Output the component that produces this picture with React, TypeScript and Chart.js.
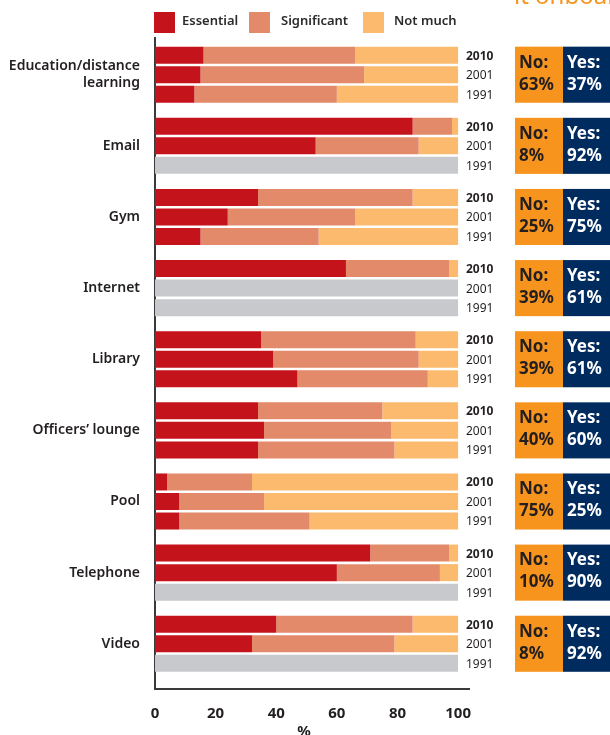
import React, { useEffect, useRef } from "react";
import { Chart, registerables } from "chart.js";
Chart.register(...registerables);

const categories: (string | string[])[] = [
  ["Education/distance", "learning"],
  "Email",
  "Gym",
  "Internet",
  "Library",
  "Officers’ lounge",
  "Pool",
  "Telephone",
  "Video",
];
const years = ["2010", "2001", "1991"];
const seriesNames = ["Essential", "Significant", "Not much"];
const seriesColors = ["#C5131C", "#E38A6B", "#FBBA6E"];
const noDataColor = "#C7C9CD";

const essential2010 = [16, 85, 34, 63, 35, 34, 4, 71, 40];
const significant2010 = [50, 13, 51, 34, 51, 41, 28, 26, 45];
const notMuch2010 = [34, 2, 15, 3, 14, 25, 68, 3, 15];

const essential2001 = [15, 53, 24, null, 39, 36, 8, 60, 32];
const significant2001 = [54, 34, 42, null, 48, 42, 28, 34, 47];
const notMuch2001 = [31, 13, 34, null, 13, 22, 64, 6, 21];
const noData2001 = [null, null, null, 100, null, null, null, null, null];

const essential1991 = [13, null, 15, null, 47, 34, 8, null, null];
const significant1991 = [47, null, 39, null, 43, 45, 43, null, null];
const notMuch1991 = [40, null, 46, null, 10, 21, 49, null, null];
const noData1991 = [null, 100, null, 100, null, null, null, 100, 100];

const noShare = [63, 8, 25, 39, 39, 40, 75, 10, 8];
const yesShare = [37, 92, 75, 61, 61, 60, 25, 90, 92];
const xTicks = [0, 20, 40, 60, 80, 100];

const CAT_PCT = 0.824;
const BAR_PCT = 0.87;
const FONT = "'Noto Sans', sans-serif";

function pts(arr: (number | null)[]) {
  const out: { x: number; y: number }[] = [];
  arr.forEach((v, i) => {
    if (v !== null) out.push({ x: v, y: i });
  });
  return out;
}

const overlayPlugin = {
  id: "overlay",
  afterDraw(chart: any) {
    const ctx = chart.ctx as CanvasRenderingContext2D;
    const y = chart.scales.y;
    const unit = Math.abs(y.getPixelForValue(1) - y.getPixelForValue(0));
    const pitch = (unit * CAT_PCT) / 3;
    const barH = pitch * BAR_PCT;
    ctx.save();

    // cut-off heading fragment at top right
    ctx.fillStyle = "#F7941D";
    ctx.font = `24px ${FONT}`;
    ctx.textBaseline = "alphabetic";
    ctx.textAlign = "left";
    ctx.fillText("it onboard", 514, 4);

    // legend
    const legendX = [154, 249, 363];
    const textOff = [28, 32, 31];
    seriesNames.forEach((name, i) => {
      const lx = legendX[i];
      ctx.fillStyle = seriesColors[i];
      ctx.fillRect(lx, 12, 21, 21);
      ctx.fillStyle = "#2b2b2b";
      ctx.font = `600 13px ${FONT}`;
      ctx.textBaseline = "middle";
      ctx.fillText(name, lx + textOff[i], 21.5);
    });

    categories.forEach((_, i) => {
      const c = y.getPixelForValue(i);
      const start = c - (unit * CAT_PCT) / 2;
      // year labels
      years.forEach((yr, k) => {
        const by = start + pitch * (k + 0.5);
        ctx.fillStyle = "#231F20";
        ctx.font = k === 0 ? `bold 12px ${FONT}` : `12px ${FONT}`;
        ctx.textAlign = "left";
        ctx.textBaseline = "middle";
        ctx.fillText(yr, 466, by + 1);
      });
      // boxes
      const top = start + (pitch - barH) / 2;
      const bottom = start + pitch * 3 - (pitch - barH) / 2;
      ctx.fillStyle = "#F7941D";
      ctx.fillRect(515, top, 48, bottom - top);
      ctx.fillStyle = "#002B5E";
      ctx.fillRect(563, top, 48, bottom - top);
      ctx.font = `bold 17px ${FONT}`;
      ctx.textBaseline = "middle";
      ctx.fillStyle = "#231F20";
      ctx.fillText("No:", 519, top + 16);
      ctx.fillText(noShare[i] + "%", 519, top + 38);
      ctx.fillStyle = "#FFFFFF";
      ctx.fillText("Yes:", 567, top + 16);
      ctx.fillText(yesShare[i] + "%", 567, top + 38);
    });

    // axis title
    ctx.fillStyle = "#231F20";
    ctx.font = `bold 15px ${FONT}`;
    ctx.textAlign = "center";
    ctx.textBaseline = "top";
    ctx.fillText("%", 304, 724);
    ctx.restore();
  },
};

export default function App() {
  const ref = useRef<HTMLCanvasElement>(null);
  useEffect(() => {
    if (!ref.current) return;
    const ds = (label: string, data: (number | null)[], color: string, stack: string) => ({
      label,
      data: pts(data),
      backgroundColor: color,
      borderWidth: 0,
      stack,
      categoryPercentage: CAT_PCT,
      barPercentage: BAR_PCT,
    });
    const chart = new Chart(ref.current, {
      type: "bar",
      data: {
        datasets: [
          ds("Essential 2010", essential2010, seriesColors[0], "2010"),
          ds("Significant 2010", significant2010, seriesColors[1], "2010"),
          ds("Not much 2010", notMuch2010, seriesColors[2], "2010"),
          ds("Essential 2001", essential2001, seriesColors[0], "2001"),
          ds("Significant 2001", significant2001, seriesColors[1], "2001"),
          ds("Not much 2001", notMuch2001, seriesColors[2], "2001"),
          ds("No data 2001", noData2001, noDataColor, "2001"),
          ds("Essential 1991", essential1991, seriesColors[0], "1991"),
          ds("Significant 1991", significant1991, seriesColors[1], "1991"),
          ds("Not much 1991", notMuch1991, seriesColors[2], "1991"),
          ds("No data 1991", noData1991, noDataColor, "1991"),
        ] as any,
      },
      options: {
        indexAxis: "y",
        animation: false,
        responsive: true,
        maintainAspectRatio: false,
        layout: { padding: { top: 38, right: 141, left: 0, bottom: 0 } },
        plugins: { legend: { display: false }, tooltip: { enabled: false } },
        scales: {
          x: {
            type: "linear",
            stacked: true,
            min: 0,
            max: 103.6,
            afterBuildTicks: (axis: any) => {
              axis.ticks = xTicks.map((v) => ({ value: v }));
            },
            afterFit: (scale: any) => {
              scale.height = 46;
            },
            grid: { display: false, drawTicks: false },
            border: { display: true, color: "#3a3a3a", width: 2 },
            ticks: {
              padding: 16,
              color: "#231F20",
              font: { family: FONT, size: 15, weight: "bold" },
              maxRotation: 0,
            },
          },
          y: {
            type: "linear",
            stacked: true,
            reverse: true,
            offset: false,
            min: -0.516,
            max: 8.636,
            afterBuildTicks: (axis: any) => {
              axis.ticks = categories.map((_, i) => ({ value: i }));
            },
            afterFit: (scale: any) => {
              scale.width = 155;
            },
            grid: { display: false, drawTicks: false, offset: false },
            border: { display: true, color: "#3a3a3a", width: 2 },
            ticks: {
              padding: 15,
              color: "#231F20",
              font: { family: FONT, size: 14, weight: 600 as any },
              callback: (v: any) => categories[v as number] as any,
            },
          },
        },
      } as any,
      plugins: [overlayPlugin],
    });
    return () => chart.destroy();
  }, []);
  return (
    <div style={{ position: "fixed", left: 0, top: 0, width: 610, height: 735, background: "#fff" }}>
      <canvas ref={ref} />
    </div>
  );
}
